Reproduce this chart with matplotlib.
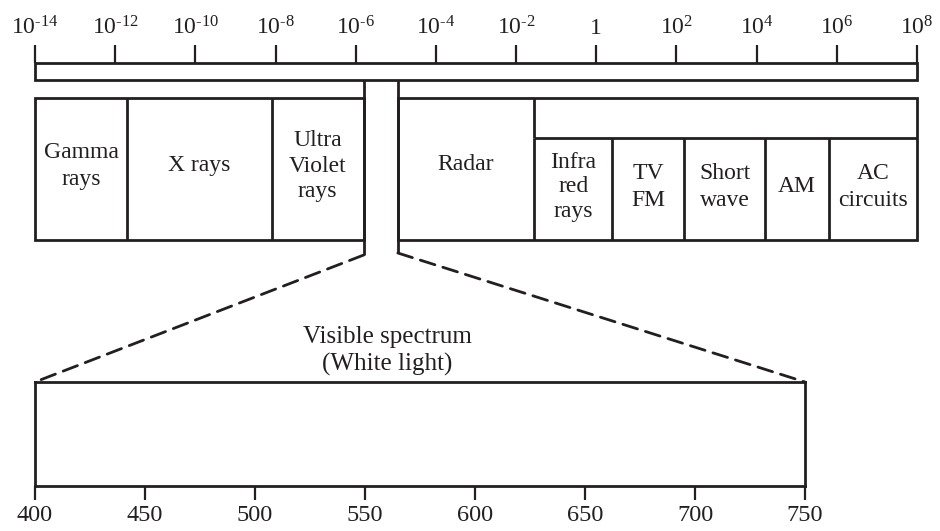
import matplotlib
matplotlib.use("Agg")
import matplotlib.pyplot as plt
from matplotlib.patches import Rectangle, ConnectionPatch
from matplotlib.ticker import FixedLocator, NullLocator
import numpy as np

plt.rcParams["font.family"] = ["Liberation Serif", "DejaVu Serif"]
plt.rcParams["mathtext.fontset"] = "custom"
plt.rcParams["mathtext.rm"] = "Liberation Serif"
plt.rcParams["mathtext.it"] = "Liberation Serif:italic"

INK = "#231f20"
LW = 2.0
FS = 17

# wavelength scale (m), ticks every two decades
tick_exponents = [-14, -12, -10, -8, -6, -4, -2, 0, 2, 4, 6, 8]

# upper band row, left block
left_names = ["Gamma\nrays", "X rays", "Ultra\nViolet\nrays"]
left_edges = [1e-14, 10 ** -11.7, 10 ** -8.1, 10 ** -5.8]

# slot where the visible band is pulled out
slot_edges = [10 ** -5.8, 10 ** -4.95]

# right block: radar on full height, the rest in the lower row
radar_edges = [10 ** -4.95, 10 ** -1.55]
lower_names = ["Infra\nred\nrays", "TV\nFM", "Short\nwave", "AM", "AC\ncircuits"]
lower_edges = [10 ** -1.55, 10 ** 0.4, 10 ** 2.2, 10 ** 4.2, 10 ** 5.8, 1e8]

# visible spectrum, nm
vis_ticks = [400, 450, 500, 550, 600, 650, 700, 750]

W, H = 940, 531
fig = plt.figure(figsize=(W / 100, H / 100), dpi=100)


def frac(x0, y_top, x1, y_bot):
    return [x0 / W, (H - y_bot) / H, (x1 - x0) / W, (y_bot - y_top) / H]


def tick_label(e):
    if e == 0:
        return "1"
    return r"$10^{\text{" + str(e) + "}}$"


def spacing(name):
    return 1.25 if name.count("\n") >= 2 else 1.35


# top axes: x is wavelength on a log scale, y runs in pixel rows (downwards)
ax = fig.add_axes(frac(35, 63, 917, 260))
ax.set_xscale("log")
ax.set_xlim(1e-14, 1e8)
ax.set_ylim(260, 63)
for s in ax.spines.values():
    s.set_visible(False)
ax.xaxis.set_ticks_position("top")
ax.xaxis.set_major_locator(FixedLocator([10.0 ** e for e in tick_exponents]))
ax.xaxis.set_minor_locator(NullLocator())
ax.set_xticklabels([tick_label(e) for e in tick_exponents])
ax.tick_params(axis="x", direction="out", length=13, width=1.6, color=INK,
               labelsize=FS, labelcolor=INK, pad=4)
ax.set_yticks([])
ax.patch.set_visible(False)


def rect(a, x0, x1, y0, y1):
    a.add_patch(Rectangle((x0, y0), x1 - x0, y1 - y0, fill=False,
                          edgecolor=INK, linewidth=LW, clip_on=False))


# thin scale bar
rect(ax, 1e-14, 1e8, 63, 80)

# left block
rect(ax, left_edges[0], left_edges[-1], 98, 240)
ax.vlines(left_edges[1:-1], 98, 240, color=INK, lw=LW)
for name, a, b in zip(left_names, left_edges[:-1], left_edges[1:]):
    ax.text(np.sqrt(a * b), 166, name, ha="center", va="center",
            fontsize=FS, color=INK, linespacing=spacing(name))

# right block
rect(ax, radar_edges[0], lower_edges[-1], 98, 240)
ax.hlines(138, radar_edges[1], lower_edges[-1], color=INK, lw=LW)
ax.vlines(lower_edges[:-1], 138, 240, color=INK, lw=LW)
ax.vlines(radar_edges[1], 98, 138, color=INK, lw=LW)
ax.text(np.sqrt(radar_edges[0] * radar_edges[1]), 164, "Radar",
        ha="center", va="center", fontsize=FS, color=INK)
for name, a, b in zip(lower_names, lower_edges[:-1], lower_edges[1:]):
    ax.text(np.sqrt(a * b), 187, name, ha="center", va="center",
            fontsize=FS, color=INK, linespacing=spacing(name))

# slot walls
ax.vlines(slot_edges[0], 80, 255, color=INK, lw=LW)
ax.vlines(slot_edges[1], 80, 253, color=INK, lw=LW)

# visible spectrum box
bx = fig.add_axes(frac(35, 382, 805, 486))
bx.set_xlim(vis_ticks[0], vis_ticks[-1])
bx.set_ylim(0, 1)
bx.set_xticks(vis_ticks)
bx.set_yticks([])
for s in bx.spines.values():
    s.set_linewidth(LW)
    s.set_color(INK)
bx.tick_params(axis="x", direction="out", length=10, width=1.6, color=INK,
               labelsize=17.5, labelcolor=INK, pad=4)
bx.text(560, 1.30, "Visible spectrum\n(White light)", transform=bx.get_xaxis_transform(),
        ha="center", va="center", fontsize=18, color=INK, linespacing=1.3)

# dashed fan from the slot down to the visible box
for (sx, sy), vx in zip([(slot_edges[0], 255), (slot_edges[1], 253)],
                        [vis_ticks[0], vis_ticks[-1]]):
    con = ConnectionPatch(xyA=(sx, sy), coordsA=ax.transData,
                          xyB=(vx, 1), coordsB=bx.get_xaxis_transform(),
                          color=INK, lw=LW, linestyle=(0, (5.5, 3)))
    fig.add_artist(con)

fig.savefig("out.png", dpi=100)
